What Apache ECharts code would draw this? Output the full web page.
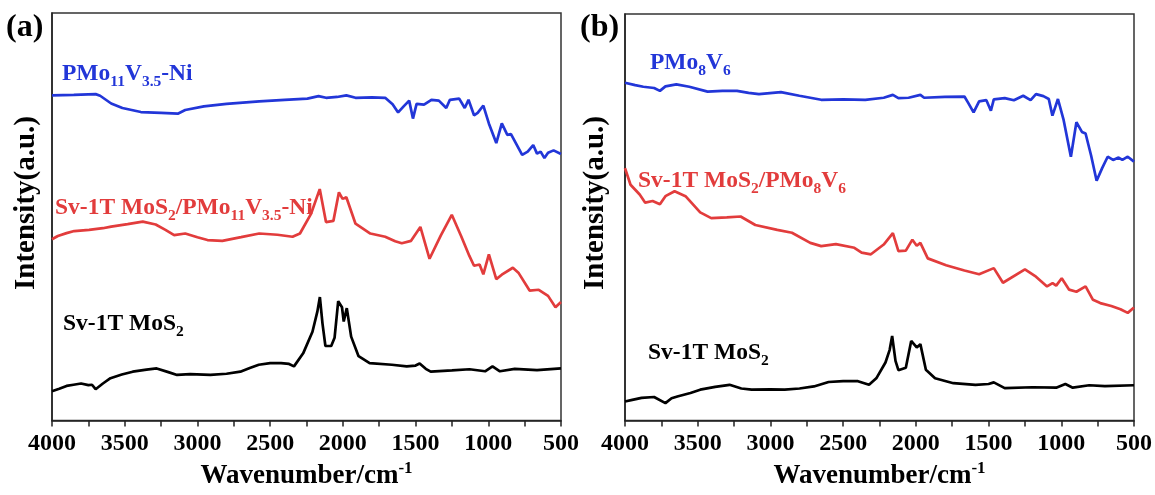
<!DOCTYPE html>
<html><head><meta charset="utf-8">
<script src="https://cdn.jsdelivr.net/npm/echarts@6/dist/echarts.min.js"></script>
<style>html,body{margin:0;padding:0;background:#fff}#c{width:1155px;height:495px}</style>
</head><body><div id="c"></div>
<script>
// ---- data (wavenumber, relative intensity 0-100) ----
const xTicks = [4000,3500,3000,2500,2000,1500,1000,500];

const aBlueX = [4000,3850,3700,3669,3593,3516,3389,3250,3135,3084,2956,2800,2575,2400,2244,2167,2116,2040,1976,1913,1800,1709,1658,1620,1582,1544,1518,1493,1442,1391,1340,1289,1264,1200,1162,1136,1098,1073,1034,996,945,907,869,844,767,729,691,665,640,614,589,551,500];
const aBlueY = [79.8,79.9,80.1,79.7,77.8,76.7,75.7,75.5,75.3,76.2,77.1,77.7,78.3,78.7,79.0,79.6,79.2,79.4,79.8,79.2,79.3,79.2,77.6,75.6,77.1,78.5,74.1,77.7,77.5,78.7,78.5,76.7,78.7,79.0,76.7,78.7,74.9,75.5,77.3,72.9,68.1,72.9,70.1,70.3,65.2,66.0,67.6,65.5,66.0,64.4,65.7,66.3,65.4];

const aRedX = [4000,3960,3900,3847,3745,3650,3593,3480,3376,3287,3220,3160,3084,3000,2931,2829,2700,2575,2450,2346,2295,2218,2159,2116,2065,2027,2002,1976,1913,1811,1709,1640,1595,1531,1467,1404,1327,1251,1187,1130,1098,1060,1034,996,945,907,831,793,716,653,589,538,500];
const aRedY = [44.5,45.3,46.0,46.5,46.8,47.2,47.6,48.2,48.8,48.1,46.8,45.5,45.9,45.0,44.3,44.1,45.0,45.9,45.6,45.1,45.9,50.8,56.8,48.7,49.0,56.0,54.4,54.8,48.3,45.9,45.1,44.0,43.5,44.1,47.5,39.7,45.4,50.5,45.3,40.4,38.0,38.3,35.9,40.8,34.7,35.8,37.5,36.3,31.9,32.1,30.6,27.8,29.1];

const aBlackX = [4000,3950,3900,3852,3800,3750,3725,3700,3650,3598,3520,3445,3350,3280,3200,3140,3050,2911,2800,2705,2640,2578,2500,2425,2370,2336,2273,2209,2175,2158,2140,2120,2080,2057,2032,2006,1994,1973,1943,1892,1816,1663,1561,1500,1472,1430,1396,1250,1129,1022,971,920,818,665,500];
const aBlackY = [7.2,7.8,8.5,8.8,9.1,8.7,8.8,7.7,9.1,10.4,11.3,12.0,12.5,12.8,11.9,11.2,11.4,11.2,11.5,12.0,12.9,13.7,14.1,14.1,13.9,13.3,16.5,21.8,26.8,30.3,23.8,18.3,18.3,20.3,29.3,27.8,24.3,27.6,20.6,15.8,14.1,13.7,13.3,13.5,14.0,12.7,12.0,12.3,12.6,12.1,13.3,12.1,12.7,12.4,12.8];

const bBlueX = [4000,3930,3874,3800,3760,3722,3647,3558,3432,3330,3230,3150,3079,2928,2801,2651,2500,2348,2221,2158,2120,2050,1969,1943,1800,1666,1641,1603,1565,1515,1484,1464,1389,1326,1262,1211,1174,1123,1086,1061,1023,985,934,896,858,833,795,757,719,681,644,606,580,543,500];
const bBlueY = [83.1,82.5,82.1,81.8,81.1,82.2,82.7,82.1,80.9,81.1,81.1,80.6,80.3,80.8,79.9,78.9,79.0,78.9,79.4,80.1,79.3,79.4,80.1,79.4,79.6,79.7,78.2,75.8,78.5,78.8,76.2,79.0,79.3,78.8,79.9,78.8,80.3,79.8,79.1,75.0,79.1,74.1,64.9,73.4,71.0,70.6,65.2,59.0,62.1,64.9,64.1,64.7,64.1,64.9,63.7];

const bRedX = [4000,3962,3899,3861,3810,3760,3722,3659,3584,3483,3407,3300,3205,3104,2953,2852,2726,2651,2550,2423,2373,2309,2221,2158,2120,2069,2024,1994,1969,1918,1792,1666,1565,1464,1401,1250,1174,1098,1060,1035,997,946,896,833,782,732,656,593,543,500];
const bRedY = [62.1,58.0,55.6,53.6,54.0,53.2,55.2,56.4,55.2,51.2,49.8,50.0,50.2,48.1,46.9,46.2,43.7,42.9,43.4,42.5,41.3,40.9,43.3,46.1,41.7,41.8,44.5,43.0,43.7,39.9,38.2,36.9,36.0,37.5,33.9,37.2,35.4,33.0,33.8,33.2,35.0,32.2,31.7,33.0,29.7,28.9,28.2,27.4,26.5,27.8];

const bBlackX = [4000,3950,3886,3800,3722,3680,3634,3550,3483,3380,3281,3200,3129,3000,2902,2800,2701,2600,2500,2398,2322,2272,2209,2180,2163,2140,2120,2069,2032,1994,1969,1931,1868,1742,1590,1500,1464,1389,1200,1035,972,921,808,700,500];
const bBlackY = [4.7,5.1,5.6,5.8,4.3,5.5,6.0,6.8,7.6,8.3,8.8,7.9,7.6,7.7,7.6,7.9,8.4,9.5,9.7,9.7,8.8,10.4,14.3,17.4,20.8,14.7,12.4,13.0,19.6,18.0,18.8,12.5,10.4,9.2,8.8,9.0,9.4,8.0,8.2,8.1,9.0,8.1,8.7,8.5,8.7];

const labelsA = ['{m|PMo}{s|11}{m|V}{s|3.5}{m|-Ni}', '{m|Sv-1T MoS}{s|2}{m|/PMo}{s|11}{m|V}{s|3.5}{m|-Ni}', '{m|Sv-1T MoS}{s|2}'];
const labelsB = ['{m|PMo}{s|8}{m|V}{s|6}', '{m|Sv-1T MoS}{s|2}{m|/PMo}{s|8}{m|V}{s|6}', '{m|Sv-1T MoS}{s|2}'];
const yTitle = 'Intensity(a.u.)';
const xTitle = '{m|Wavenumber/cm}{p|-1}';
const panelTags = ['(a)', '(b)'];

// ---- styling ----
const FONT = '"Liberation Serif","Times New Roman",serif';
const BLUE = '#2236d8', RED = '#e23c3c', BLACK = '#000000';
const pair = (xs, ys) => xs.map((x, i) => [x, ys[i]]);

function richFor(color){
  return {
    m:{fontFamily:FONT,fontWeight:'bold',fontSize:23.5,lineHeight:32,verticalAlign:'middle',color:color,fill:color},
    s:{fontFamily:FONT,fontWeight:'bold',fontSize:15.5,lineHeight:17,verticalAlign:'bottom',color:color,fill:color}
  };
}

const grids = [
  {left:52, top:13, width:509, height:412, show:true, borderColor:'#333', borderWidth:1.5, backgroundColor:'transparent'},
  {left:625, top:14, width:509, height:411, show:true, borderColor:'#333', borderWidth:1.5, backgroundColor:'transparent'}
];

function xAx(i){
  return {
    gridIndex:i, type:'value', min:500, max:4000, interval:500, inverse:true,
    axisLine:{show:true, onZero:false, lineStyle:{color:'#222', width:1.5}},
    axisTick:{show:true, inside:false, length:6, lineStyle:{color:'#222', width:1.5}},
    minorTick:{show:true, splitNumber:2, length:6, lineStyle:{color:'#222', width:1.5}},
    splitLine:{show:false},
    axisLabel:{color:'#000', fontFamily:FONT, fontWeight:'bold', fontSize:24, margin:11,
               formatter:function(v){ return String(v); }},
    name:xTitle, nameLocation:'middle', nameGap:39,
    nameTextStyle:{rich:{
      m:{fontFamily:FONT,fontWeight:'bold',fontSize:27,lineHeight:32,verticalAlign:'middle',color:'#000'},
      p:{fontFamily:FONT,fontWeight:'bold',fontSize:17,lineHeight:17,verticalAlign:'top',color:'#000'}
    }}
  };
}
function yAx(i){
  return {
    gridIndex:i, type:'value', min:0, max:100,
    axisLine:{show:true, lineStyle:{color:'#222', width:1.5}},
    axisTick:{show:false}, axisLabel:{show:false}, splitLine:{show:false}
  };
}
function line(i, data, color){
  return {type:'line', xAxisIndex:i, yAxisIndex:i, data:data, symbol:'none',
          lineStyle:{color:color, width:2.7}, itemStyle:{color:color}, animation:false};
}
function txt(left, top, text, color){
  return {type:'text', left:left, top:top, style:{text:text, rich:richFor(color), fill:color}};
}
function ytitle(x, y){
  return {type:'text', x:x, y:y, rotation:Math.PI/2,
          style:{text:yTitle, font:'bold 29px '+FONT, fill:'#000', align:'center', verticalAlign:'middle'}};
}

const option = {
  backgroundColor:'#fff',
  animation:false,
  grid:grids,
  xAxis:[xAx(0), xAx(1)],
  yAxis:[yAx(0), yAx(1)],
  series:[
    line(0, pair(aBlueX, aBlueY), BLUE),
    line(0, pair(aRedX, aRedY), RED),
    line(0, pair(aBlackX, aBlackY), BLACK),
    line(1, pair(bBlueX, bBlueY), BLUE),
    line(1, pair(bRedX, bRedY), RED),
    line(1, pair(bBlackX, bBlackY), BLACK)
  ],
  graphic:[
    {type:'text', left:6, top:12, style:{text:panelTags[0], font:'bold 32px '+FONT, fill:'#000'}},
    {type:'text', left:580, top:12, style:{text:panelTags[1], font:'bold 32px '+FONT, fill:'#000'}},
    ytitle(27, 203),
    ytitle(596, 203),
    txt(62, 62, labelsA[0], BLUE),
    txt(55, 196, labelsA[1], RED),
    txt(63, 312, labelsA[2], BLACK),
    txt(650, 51, labelsB[0], BLUE),
    txt(638, 169, labelsB[1], RED),
    txt(648, 341, labelsB[2], BLACK)
  ]
};
echarts.init(document.getElementById('c'), null, {renderer:'canvas'}).setOption(option);
</script></body></html>
